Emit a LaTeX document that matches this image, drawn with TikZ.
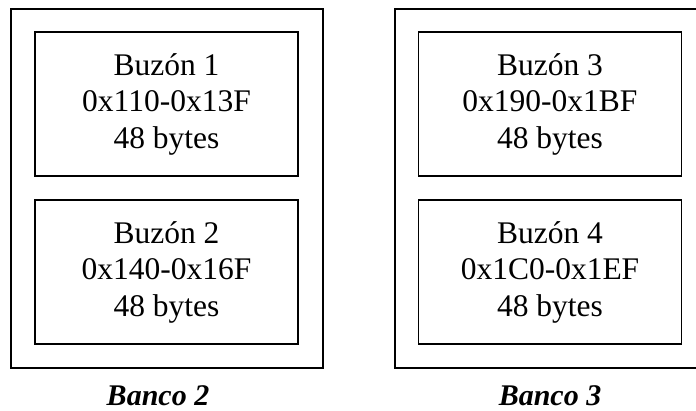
\documentclass[tikz,border=0pt]{standalone}
\usepackage{fontspec}
\setmainfont{Liberation Serif}
\usepackage{tikz}
\usepackage{xcolor}

\tikzset{
  banco/.style={draw, line width=1.6pt, minimum width=312pt, minimum height=359pt, inner sep=0pt},
  buzon/.style={draw, line width=1.6pt, minimum width=263pt, minimum height=144pt, inner sep=0pt,
    align=center, font=\fontsize{31.5}{36.5}\selectfont},
  etiqueta/.style={anchor=base, inner sep=0pt, font=\fontsize{30}{34}\selectfont\bfseries\itshape}
}

\begin{document}
\begin{tikzpicture}[x=1pt, y=-1pt]
    \useasboundingbox (0,0) rectangle (696,410);
    % banco 2
    \node[banco] (banco2) at (167,188.5) {};
    \node[buzon] (buzon1) at (166.5,104) {Buzón 1\\0x110-0x13F\\48 bytes};
    \node[buzon] (buzon2) at (166.5,272) {Buzón 2\\0x140-0x16F\\48 bytes};
    \node[etiqueta] (lbl2) at (158,405) {Banco 2};
    % banco 3
    \node[banco] (banco3) at (551,188.5) {};
    \node[buzon] (buzon3) at (550,104) {Buzón 3\\0x190-0x1BF\\48 bytes};
    \node[buzon] (buzon4) at (550,272) {Buzón 4\\0x1C0-0x1EF\\48 bytes};
    \node[etiqueta] (lbl3) at (550,405) {Banco 3};
  \end{tikzpicture}
\end{document}
